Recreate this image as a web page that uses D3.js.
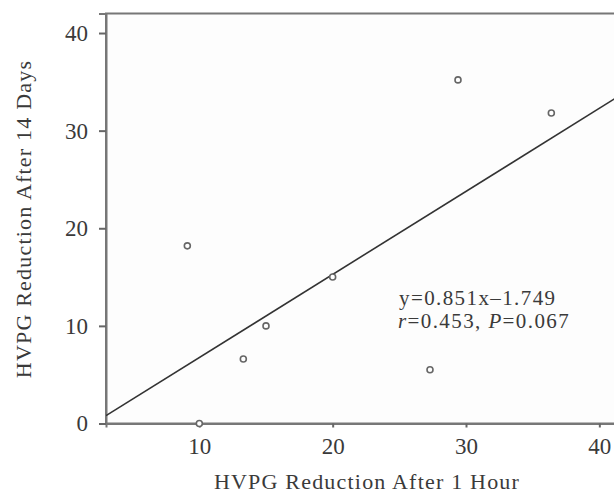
<!DOCTYPE html>
<html>
<head>
<meta charset="utf-8">
<script src="https://cdn.jsdelivr.net/npm/d3@7"></script>
<style>
    body { margin: 0; background: #fff; }
    svg { display: block; }
    text { font-family: "Liberation Serif", "Times New Roman", serif; fill: #3a3a3a; }
    .tick text { font-size: 23px; }
    .axis-title { font-size: 22px; letter-spacing: 1.2px; }
    .note { font-size: 21px; letter-spacing: 1.4px; }
</style>
</head>
<body>
<svg id="chart"></svg>
<script>
// data
const hvpg1h  = [9.1, 10.0, 13.3, 15.0, 20.0, 27.3, 29.4, 36.4];
const hvpg14d = [18.2, 0.0, 6.6, 10.0, 15.0, 5.5, 35.2, 31.8];
const xTicks = [10, 20, 30, 40];
const yTicks = [0, 10, 20, 30, 40];
const slope = 0.851, intercept = -1.749;
const noteLine1 = "y=0.851x–1.749";

const width = 614, height = 495;
const margin = { top: 13.5, right: -12, bottom: 71.5, left: 106 };

const svg = d3.select("#chart").attr("width", width).attr("height", height);

const x = d3.scaleLinear().domain([3, 42]).range([margin.left, width - margin.right]);
const y = d3.scaleLinear().domain([0, 42]).range([height - margin.bottom, margin.top]);

// frame (right side runs off the picture)
svg.append("rect")
    .attr("x", x(3)).attr("y", y(42))
    .attr("width", x(42) - x(3)).attr("height", y(0) - y(42))
    .attr("fill", "#fdfdfd")
    .attr("stroke", "#777").attr("stroke-width", 2);

// axes
const xAxis = svg.append("g")
    .attr("transform", `translate(0,${y(0)})`)
    .call(d3.axisBottom(x).tickValues(xTicks).tickFormat(d3.format("d")).tickSize(4).tickPadding(10));
const yAxis = svg.append("g")
    .attr("transform", `translate(${x(3)},0)`)
    .call(d3.axisLeft(y).tickValues(yTicks).tickFormat(d3.format("d")).tickSize(7).tickPadding(11));
[xAxis, yAxis].forEach(g => {
    g.select(".domain").attr("stroke", "#777").attr("stroke-width", 2);
    g.selectAll(".tick line").attr("stroke", "#666").attr("stroke-width", 2);
    g.selectAll(".tick text").attr("fill", "#3a3a3a");
});

// regression line, clipped to the frame
svg.append("clipPath").attr("id", "plot-clip")
    .append("rect")
    .attr("x", x(3)).attr("y", y(42))
    .attr("width", x(42) - x(3)).attr("height", y(0) - y(42));

svg.append("line")
    .attr("clip-path", "url(#plot-clip)")
    .attr("x1", x(3)).attr("y1", y(slope * 3 + intercept))
    .attr("x2", x(42)).attr("y2", y(slope * 42 + intercept))
    .attr("stroke", "#333").attr("stroke-width", 1.6);

// points
svg.selectAll("circle.pt")
    .data(hvpg1h.map((v, i) => [v, hvpg14d[i]]))
    .join("circle")
    .attr("class", "pt")
    .attr("cx", d => x(d[0]))
    .attr("cy", d => y(d[1]))
    .attr("r", 3)
    .attr("fill", "#fff")
    .attr("stroke", "#666")
    .attr("stroke-width", 1.6);

// equation and stats
svg.append("text").attr("class", "note")
    .attr("x", 399).attr("y", 305)
    .text(noteLine1);
const note2 = svg.append("text").attr("class", "note").attr("x", 398).attr("y", 328);
note2.append("tspan").style("font-style", "italic").text("r");
note2.append("tspan").text("=0.453, ");
note2.append("tspan").style("font-style", "italic").text("P");
note2.append("tspan").text("=0.067");

// axis titles
svg.append("text").attr("class", "axis-title")
    .attr("x", 367).attr("y", 489)
    .attr("text-anchor", "middle")
    .text("HVPG Reduction After 1 Hour");
svg.append("text").attr("class", "axis-title")
    .attr("transform", "translate(31,219) rotate(-90)")
    .attr("text-anchor", "middle")
    .text("HVPG Reduction After 14 Days");
</script>
</body>
</html>
